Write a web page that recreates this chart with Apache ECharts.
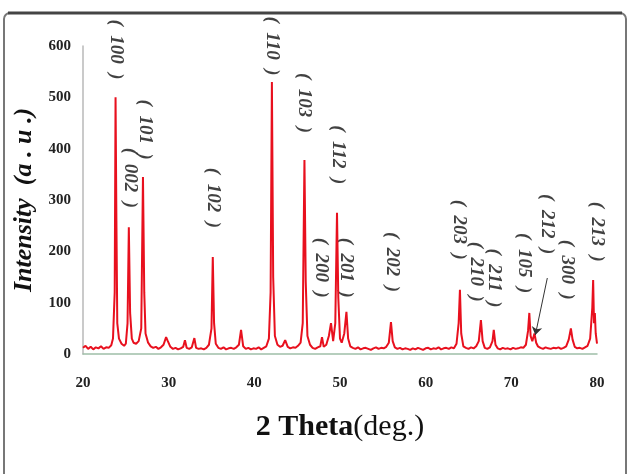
<!DOCTYPE html>
<html>
<head>
<meta charset="utf-8">
<script src="https://cdn.jsdelivr.net/npm/echarts@6/dist/echarts.min.js"></script>
<style>
  html, body { margin: 0; padding: 0; background: #fff; }
  #chart { width: 630px; height: 474px; }
</style>
</head>
<body>
<div id="chart"></div>
<script>
// 2 theta / intensity trace
var pattern = [
  [20.0, 12], [20.3, 16], [20.6, 10], [20.9, 14], [21.2, 9], [21.5, 13], [21.8, 11], [22.1, 15],
  [22.4, 10], [22.7, 13], [23.0, 12], [23.3, 17], [23.5, 30], [23.7, 120], [23.8, 500], [23.9, 260],
  [24.0, 60], [24.2, 30], [24.5, 20], [24.8, 16], [25.0, 20], [25.2, 60], [25.35, 247], [25.5, 80],
  [25.7, 30], [25.9, 22], [26.2, 20], [26.5, 25], [26.8, 50], [27.0, 345], [27.15, 120], [27.3, 40],
  [27.6, 22], [27.9, 15], [28.2, 12], [28.5, 14], [28.8, 10], [29.1, 13], [29.4, 18], [29.7, 33],
  [29.9, 25], [30.2, 14], [30.5, 10], [30.8, 12], [31.1, 9], [31.4, 11], [31.7, 14], [31.9, 27],
  [32.1, 12], [32.4, 10], [32.7, 13], [33.0, 31], [33.2, 12], [33.5, 10], [33.8, 11], [34.1, 9],
  [34.4, 12], [34.7, 18], [35.0, 50], [35.15, 189], [35.3, 60], [35.5, 20], [35.8, 12], [36.1, 10],
  [36.4, 13], [36.7, 9], [37.0, 11], [37.3, 12], [37.6, 10], [37.9, 13], [38.2, 18], [38.45, 47],
  [38.7, 15], [39.0, 10], [39.3, 12], [39.6, 9], [39.9, 11], [40.2, 10], [40.5, 13], [40.8, 9],
  [41.1, 12], [41.4, 15], [41.7, 30], [41.9, 120], [42.05, 530], [42.2, 150], [42.4, 35], [42.7, 18],
  [43.0, 14], [43.3, 16], [43.6, 27], [43.9, 14], [44.2, 11], [44.5, 13], [44.8, 12], [45.1, 16],
  [45.4, 22], [45.65, 60], [45.85, 378], [46.0, 140], [46.2, 35], [46.5, 18], [46.8, 12], [47.1, 10],
  [47.4, 13], [47.7, 15], [47.9, 33], [48.1, 14], [48.4, 18], [48.7, 35], [48.95, 60], [49.2, 25],
  [49.45, 60], [49.65, 275], [49.8, 110], [50.0, 30], [50.2, 22], [50.5, 40], [50.75, 82], [50.95, 30],
  [51.2, 15], [51.5, 12], [51.8, 10], [52.1, 13], [52.4, 9], [52.7, 11], [53.0, 12], [53.3, 10],
  [53.6, 8], [53.9, 11], [54.2, 13], [54.5, 10], [54.8, 12], [55.1, 11], [55.4, 14], [55.7, 22],
  [55.95, 62], [56.15, 25], [56.4, 13], [56.7, 10], [57.0, 12], [57.3, 9], [57.6, 11], [57.9, 10],
  [58.2, 8], [58.5, 11], [58.8, 9], [59.1, 12], [59.4, 10], [59.7, 8], [60.0, 11], [60.3, 12],
  [60.6, 9], [60.9, 11], [61.2, 10], [61.5, 13], [61.8, 9], [62.1, 11], [62.4, 12], [62.7, 10],
  [63.0, 13], [63.3, 11], [63.6, 20], [63.85, 60], [64.0, 125], [64.15, 40], [64.4, 15], [64.7, 12],
  [65.0, 10], [65.3, 13], [65.6, 11], [65.9, 15], [66.2, 25], [66.45, 66], [66.65, 25], [66.9, 12],
  [67.2, 10], [67.5, 13], [67.8, 25], [67.95, 47], [68.15, 18], [68.4, 11], [68.7, 9], [69.0, 12],
  [69.3, 10], [69.6, 11], [69.9, 9], [70.2, 12], [70.5, 10], [70.8, 11], [71.1, 13], [71.4, 12],
  [71.7, 18], [71.95, 45], [72.1, 80], [72.25, 35], [72.45, 25], [72.7, 40], [72.9, 22], [73.1, 15],
  [73.4, 12], [73.7, 10], [74.0, 13], [74.3, 11], [74.6, 10], [74.9, 12], [75.2, 11], [75.5, 13],
  [75.8, 10], [76.1, 12], [76.4, 15], [76.7, 28], [76.95, 50], [77.15, 28], [77.4, 14], [77.7, 11],
  [78.0, 12], [78.3, 10], [78.6, 13], [78.9, 16], [79.2, 30], [79.45, 90], [79.55, 144], [79.65, 60],
  [79.75, 80], [79.85, 40], [80.0, 20]
]

// peak labels: [2theta, height of label centre, text]
var peakLabels = [
  [23.85, 593, '(  100  )'],
  [25.5, 343, '(  002  )'],
  [27.2, 437, '(  101  )'],
  [35.2, 304, '(  102  )'],
  [42.1, 600, '(  110  )'],
  [45.8, 489, '(  103  )'],
  [49.8, 388, '(  112  )'],
  [47.8, 168, '(  200  )'],
  [50.7, 168, '(  201  )'],
  [56.1, 179, '(  202  )'],
  [63.9, 242, '(  203  )'],
  [65.9, 160, '(  210  )'],
  [68.0, 148, '(  211  )'],
  [71.5, 177, '(  105  )'],
  [74.2, 253, '(  212  )'],
  [76.5, 164, '(  300  )'],
  [80.0, 238, '(  213  )']
]

// arrow pointing at the (212) reflection
var arrowFrom = [74.2, 148]
var arrowTo = [72.8, 37]

var xTicks = { min: 20, max: 80, interval: 10 }
var yTicks = { min: 0, max: 600, interval: 100 }

var chart = echarts.init(document.getElementById('chart'))
chart.setOption({
  backgroundColor: '#fff',
  animation: false,
  graphic: [
    {
      type: 'rect',
      shape: { x: 4, y: 13, width: 622, height: 480, r: 6 },
      style: { fill: 'none', stroke: '#777', lineWidth: 2 },
      silent: true
    },
    {
      type: 'line',
      shape: { x1: 8, y1: 13, x2: 622, y2: 13 },
      style: { stroke: '#444', lineWidth: 3 },
      silent: true
    }
  ],
  grid: {
    left: 83,
    right: 33,
    top: 46,
    bottom: 120
  },
  xAxis: {
    type: 'value',
    min: xTicks.min,
    max: xTicks.max,
    interval: xTicks.interval,
    name: '{b|2 Theta}{n|(deg.)}',
    nameLocation: 'middle',
    nameGap: 58,
    nameTextStyle: {
      rich: {
        b: { fontFamily: 'Liberation Serif', fontSize: 30, fontWeight: 'bold', color: '#111' },
        n: { fontFamily: 'Liberation Serif', fontSize: 30, color: '#111' }
      }
    },
    axisLine: { lineStyle: { color: '#9fbfa8', width: 1.5 } },
    axisTick: { show: false },
    splitLine: { show: false },
    axisLabel: {
      margin: 22,
      fontFamily: 'Liberation Serif',
      fontWeight: 'bold',
      fontSize: 15,
      color: '#222'
    }
  },
  yAxis: {
    type: 'value',
    min: yTicks.min,
    max: yTicks.max,
    interval: yTicks.interval,
    name: 'Intensity  (a . u .)',
    nameLocation: 'middle',
    nameGap: 36,
    nameTextStyle: {
      fontFamily: 'Liberation Serif',
      fontSize: 26,
      fontWeight: 'bold',
      fontStyle: 'italic',
      color: '#111'
    },
    axisLine: { show: true, lineStyle: { color: '#b8b8b8', width: 1.5 } },
    axisTick: { show: false },
    splitLine: { show: false },
    axisLabel: {
      margin: 12,
      fontFamily: 'Liberation Serif',
      fontWeight: 'bold',
      fontSize: 15,
      color: '#222'
    }
  },
  series: [
    {
      type: 'line',
      data: pattern,
      symbol: 'none',
      lineStyle: { color: '#e8101e', width: 2 },
      markLine: {
        silent: true,
        symbol: ['none', 'arrow'],
        symbolSize: 8,
        label: { show: false },
        lineStyle: { color: '#333', width: 1, type: 'solid' },
        data: [[{ coord: arrowFrom }, { coord: arrowTo }]]
      }
    },
    {
      type: 'scatter',
      data: peakLabels,
      symbolSize: 0,
      clip: false,
      silent: true,
      label: {
        show: true,
        position: 'inside',
        rotate: -90,
        formatter: function (p) { return p.data[2] },
        fontFamily: 'Liberation Serif',
        fontSize: 19,
        fontWeight: 'bold',
        fontStyle: 'italic',
        color: '#111'
      }
    }
  ]
})
</script>
</body>
</html>
